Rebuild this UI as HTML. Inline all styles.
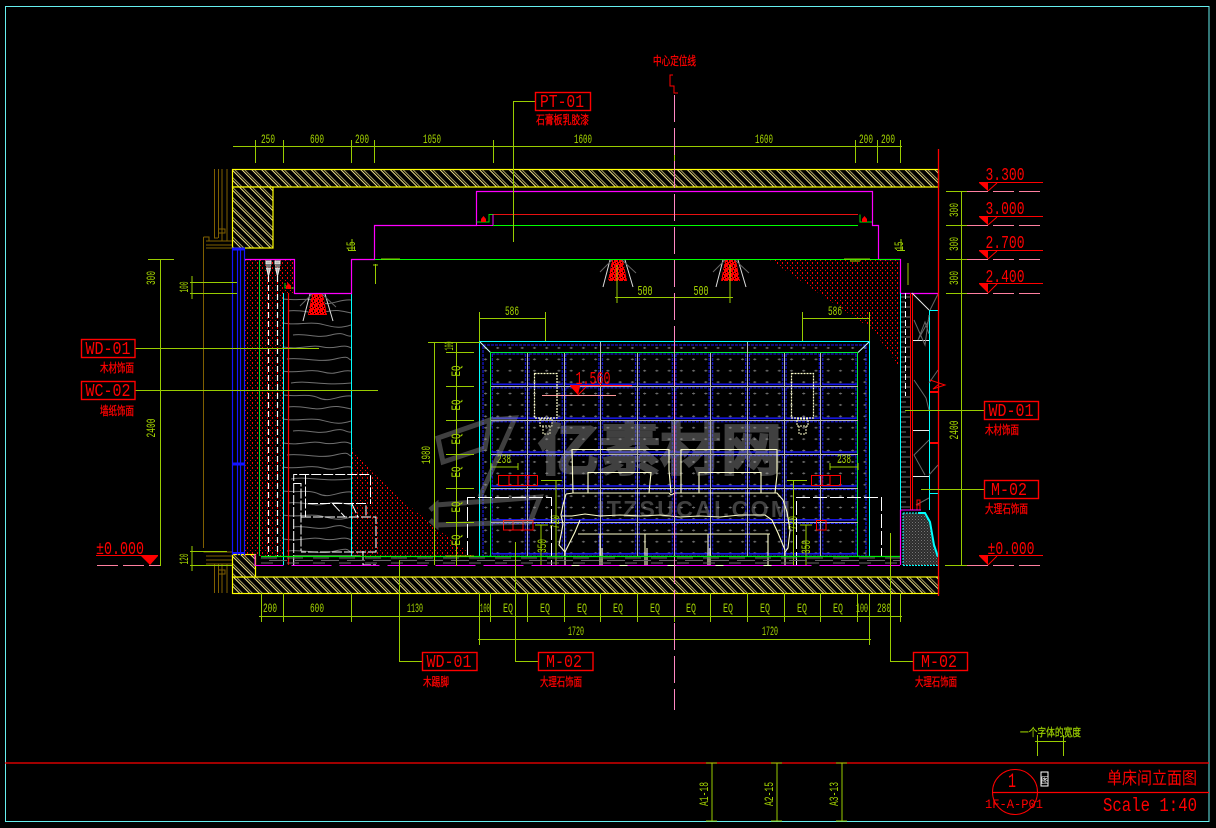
<!DOCTYPE html>
<html><head><meta charset="utf-8"><title>单床间立面图</title>
<style>
html,body{margin:0;padding:0;background:#000;width:1216px;height:828px;overflow:hidden}
svg{display:block}
.g{stroke:#99cc00;fill:none}
.t{font-family:"Liberation Mono",monospace;fill:#a4d400;font-size:12.5px;text-anchor:middle}
.r{font-family:"Liberation Mono",monospace;fill:#ff0000;font-size:18px;text-anchor:middle}
.c{font-family:"Liberation Sans","Noto Sans CJK SC",sans-serif;fill:#ff0000;font-size:12px;stroke:#ff0000;stroke-width:.3}
.cg{font-family:"Liberation Sans","Noto Sans CJK SC",sans-serif;fill:#99cc00;font-size:11px;stroke:#99cc00;stroke-width:.25}
.box{stroke:#ff0000;fill:none;stroke-width:1.4}
</style></head><body>
<svg width="1216" height="828" viewBox="0 0 1216 828" xmlns="http://www.w3.org/2000/svg">
<defs>
<pattern id="hatch" width="7" height="7" patternUnits="userSpaceOnUse" patternTransform="rotate(-45)"><rect width="7" height="7" fill="#000"/><line x1="2" y1="0" x2="2" y2="7" stroke="#f2e48a" stroke-width="1"/><line x1="4" y1="0" x2="4" y2="7" stroke="#f2e48a" stroke-width=".7"/></pattern>
<pattern id="dots" width="5" height="5" patternUnits="userSpaceOnUse"><rect x="0" y="0" width="1" height="1" fill="#ff0000"/><rect x="2" y="2" width="1" height="2" fill="#ff0000"/></pattern>
<pattern id="lampd" width="5" height="5" patternUnits="userSpaceOnUse"><rect width="5" height="5" fill="#ff0000"/><rect x="1" y="2" width="1" height="1" fill="#000"/><rect x="3" y="0" width="1" height="2" fill="#000"/><rect x="4" y="3" width="1" height="1" fill="#000"/></pattern>
<pattern id="plus" width="12.24" height="11.4" patternUnits="userSpaceOnUse" x="480" y="342"><path d="M4 6h3M5.5 5v2" stroke="#6e6e6e" stroke-width="1" fill="none"/></pattern>
<pattern id="cell" width="36.72" height="33.9" patternUnits="userSpaceOnUse" x="490.5" y="352.5"><path d="M1.8 1.5H35M1.8 1.5V32M35 1.5V32" stroke="#1a1aff" stroke-width="1" stroke-dasharray="3 1" fill="none"/><path d="M1 31.8H36" stroke="#1a1aff" stroke-width="1.5" fill="none"/></pattern>
<pattern id="wood" x="283" y="293" width="68" height="96" patternUnits="userSpaceOnUse"><path d="M0 6C15 8 25 4 36 9S55 6 68 7M5 18C20 16 30 22 42 19S58 18 68 20M0 30C14 33 26 28 38 31S56 36 68 32M10 42C24 40 34 46 48 42S62 44 68 43M0 54C18 57 28 51 40 54S60 50 68 55M4 66C20 64 36 70 52 66S64 66 68 67M0 78C14 81 26 75 40 79S58 76 68 78M8 90C24 87 40 93 68 90" stroke="#707070" stroke-width="1" fill="none"/></pattern>
<pattern id="stone" width="3" height="3" patternUnits="userSpaceOnUse"><rect width="3" height="3" fill="#2c2c2c"/><rect width="1" height="1" fill="#777"/><rect x="1.5" y="1.5" width="1" height="1" fill="#5c5c5c"/></pattern>
<pattern id="brick" x="901" y="293" width="9" height="10" patternUnits="userSpaceOnUse"><path d="M0 4H9M0 9H5" stroke="#707070" stroke-width="1"/></pattern>
<pattern id="floor" x="261" y="557" width="26" height="8" patternUnits="userSpaceOnUse"><path d="M0 1H16M8 3.5H26M0 6H12" stroke="#666" stroke-width="1"/></pattern>
</defs>
<rect width="1216" height="828" fill="#000"/>

<!-- frame -->
<rect x="5.5" y="6.5" width="1203.5" height="815" fill="none" stroke="#66eeee"/>
<path d="M5 763H1209M992 792.500H1209" stroke="#ff0000" fill="none" stroke-width="1.2"/>
<path d="M712 763V821M777 763V821M842 763V821" class="g"/>
<path d="M706 763H717M771 763H782M836 763H847M706 821H717M771 821H782M836 821H847" class="g"/>
<text class="t" x="0" y="0" transform="translate(708,794) rotate(-90)" textLength="24" lengthAdjust="spacingAndGlyphs">A1-18</text>
<text class="t" x="0" y="0" transform="translate(773,794) rotate(-90)" textLength="24" lengthAdjust="spacingAndGlyphs">A2-15</text>
<text class="t" x="0" y="0" transform="translate(838,794) rotate(-90)" textLength="24" lengthAdjust="spacingAndGlyphs">A3-13</text>
<circle cx="1015" cy="792" r="22.500" fill="none" stroke="#ff0000"/>
<text class="r" x="1012" y="787" style="font-size:20px" textLength="8" lengthAdjust="spacingAndGlyphs">1</text>
<text class="r" x="1014" y="808" style="font-size:13px" textLength="58" lengthAdjust="spacingAndGlyphs">1F-A-P01</text>
<rect x="1041" y="772" width="7" height="14" fill="#000" stroke="#fff"/>
<text x="1041" y="783" font-size="8" fill="#fff" font-family="Noto Sans CJK SC,sans-serif">图</text>
<text x="1107" y="784" class="c" style="font-size:17px;stroke-width:0" textLength="90" lengthAdjust="spacingAndGlyphs">单床间立面图</text>
<text x="1150" y="811" class="r" style="font-size:19px" textLength="94" lengthAdjust="spacingAndGlyphs">Scale 1:40</text>
<text x="1020" y="736" class="cg" textLength="61" lengthAdjust="spacingAndGlyphs">一个字体的宽度</text>
<path d="M1037.500 735V756M1063.500 735V756M1035 741.500H1066" class="g"/>

<!-- slabs -->
<rect x="232.500" y="169.500" width="706" height="17.500" fill="url(#hatch)" stroke="#ffff00" stroke-width="1.2"/>
<rect x="232.500" y="187" width="40.500" height="61" fill="url(#hatch)" stroke="#ffff00" stroke-width="1.2"/>
<rect x="232.500" y="577" width="706" height="16.500" fill="url(#hatch)" stroke="#ffff00" stroke-width="1.2"/>
<rect x="232.500" y="554.500" width="23" height="22.500" fill="url(#hatch)" stroke="#ffff00" stroke-width="1.2"/>

<!-- window brown -->
<path d="M214.500 169V238M218.500 169V238M222 169V241M227 169V241M203.500 237V548M203.500 237H209V241H232M206 241H232M206 245H232M206 248H232M218 238H214M219 229H225V233H219" stroke="#7f5f00" fill="none"/>
<path d="M203.500 552H232M206 556H232M206 560H232M206 564H232M214.500 564V593M218.500 564V593M222 564V593M227 564V593M219 570H225V574H219" stroke="#7f5f00" fill="none"/>

<!-- left blue columns -->
<path d="M232.500 249V555M237.500 249V555M240.500 249V555M244.500 249V555" stroke="#1414ff" fill="none" stroke-width="1.200"/>
<path d="M232 249H245" stroke="#1414ff" stroke-width="3"/>
<path d="M232 464H245" stroke="#1414ff" stroke-width="3"/>
<path d="M232 553H245" stroke="#1414ff" stroke-width="2"/>

<!-- red dot fills -->
<rect x="245" y="260" width="38" height="296" fill="url(#dots)"/>
<rect x="283" y="260" width="11" height="33" fill="url(#dots)"/>
<polygon points="352,448 372,472 400,498 432,525 473,556 352,556" fill="url(#dots)"/>
<polygon points="770,260 873,330 900,368 900,260" fill="url(#dots)"/>
<!-- left panel -->
<rect x="283" y="294" width="68" height="262" fill="url(#wood)"/>
<path d="M259.500 260V556" stroke="#00cc33"/>
<path d="M268.500 276V556M277.500 276V556" stroke="#fff" stroke-dasharray="6 3" fill="none" stroke-width="1.200"/>
<path d="M266 261h5v3h-5zM275 261h5v3h-5zM266 266h5M275 266h5M266.500 268l2 8 2-8zM275.500 268l2 8 2-8z" stroke="#e8e8e8" fill="#bbb"/>
<path d="M283.500 293V565M351.500 293V556" stroke="#00ffff" fill="none"/>
<path d="M288.500 293V565" stroke="#ff0000" fill="none" stroke-width="1.200"/>
<path d="M245 259.500H294.500V293.500H351.500V259.500H374.500V225.500H476.500V191.500H872.500V225.500H878.500V259.500H900.500V293.500H938" stroke="#ff00ff" fill="none" stroke-width="1.200"/>
<path d="M374.500 259.500H900" stroke="#00ff00" fill="none"/>
<path d="M492 225.500H858" stroke="#00ff00"/>
<path d="M490 214.500H858" stroke="#e81010"/>
<path d="M476.500 222H489V214.500H493V225" stroke="#00dd00" fill="none"/>
<path d="M493 214.500V225M476 225.500H493" stroke="#ff00ff" fill="none"/>
<path d="M860 214.500V222H872" stroke="#00dd00" fill="none"/>
<path d="M481 222v-3l2.500-3 2.500 3v3z" fill="#ff0000"/>
<path d="M862 222v-3l2.500-3 2.500 3v3z" fill="#ff0000"/>
<path d="M285 283V288H294" stroke="#00dd00" fill="none"/>
<path d="M286 289v-3l2.500-3 2.500 3v3z" fill="#ff0000"/>

<!-- lights -->
<polygon points="612,260 623,260 627,281 608,281" fill="url(#lampd)"/><path d="M610 260L603 287M625 260L633 287" stroke="#ddd" fill="none"/><path d="M612 260L600 272M622 260L636 273" stroke="#666" fill="none"/>
<polygon points="725,260 736,260 740,281 721,281" fill="url(#lampd)"/><path d="M723 260L716 287M738 260L746 287" stroke="#ddd" fill="none"/><path d="M725 260L713 272M735 260L749 273" stroke="#666" fill="none"/>
<polygon points="312,294 323,294 327,315 308,315" fill="url(#lampd)"/><path d="M310 294L303 321M325 294L333 321" stroke="#ddd" fill="none"/><path d="M312 294L300 306M322 294L336 307" stroke="#666" fill="none"/>
<path d="M617 265V303M730 265V303M615 297.500H733" class="g"/>
<text class="t" x="645" y="295" textLength="15" lengthAdjust="spacingAndGlyphs" style="font-size:14px">500</text>
<text class="t" x="701" y="295" textLength="15" lengthAdjust="spacingAndGlyphs" style="font-size:14px">500</text>

<!-- top dims -->
<path d="M233 146.500H902" class="g"/>
<path d="M255.500 140V163M283.500 140V163M351.500 140V163M374.500 140V163M493.500 140V163M674.500 140V163M855.500 140V163M877.500 140V163M900.500 140V163" class="g"/>
<text class="t" x="268" y="143" textLength="14" lengthAdjust="spacingAndGlyphs">250</text>
<text class="t" x="317" y="143" textLength="14" lengthAdjust="spacingAndGlyphs">600</text>
<text class="t" x="362" y="143" textLength="14" lengthAdjust="spacingAndGlyphs">200</text>
<text class="t" x="432" y="143" textLength="18" lengthAdjust="spacingAndGlyphs">1050</text>
<text class="t" x="583" y="143" textLength="18" lengthAdjust="spacingAndGlyphs">1600</text>
<text class="t" x="764" y="143" textLength="18" lengthAdjust="spacingAndGlyphs">1600</text>
<text class="t" x="866" y="143" textLength="14" lengthAdjust="spacingAndGlyphs">200</text>
<text class="t" x="888" y="143" textLength="14" lengthAdjust="spacingAndGlyphs">200</text>
<text class="t" transform="translate(355,246) rotate(-90)" textLength="9" lengthAdjust="spacingAndGlyphs">15</text>
<text class="t" transform="translate(903,246) rotate(-90)" textLength="9" lengthAdjust="spacingAndGlyphs">15</text>
<path d="M348 250.500H356M352 239V251M381 259H400M373 265H378M375.500 264V284M844 259H870M897 250.500H905M901 239V251" class="g"/>
<path d="M850 261H860M908 263V285" class="g"/>

<!-- bedroom wall -->
<rect x="480" y="342" width="390" height="214" fill="url(#plus)"/>
<rect x="491" y="353" width="367" height="203" fill="url(#cell)"/>
<rect x="483" y="345" width="383" height="211" fill="none" stroke="#1a1aff" stroke-dasharray="3 1"/>
<path d="M479.500 556V341.500H869.500V556" stroke="#00ffff" fill="none"/>
<path d="M480 342L490.500 352.500M869 342L858 352.500" stroke="#ccffff"/>
<path d="M490.500 556V352.500H857.500V556" stroke="#00ee33" fill="none"/>
<path d="M527.500 353V556M564.500 353V556M600.500 342V556M637.500 353V556M674.500 353V556M710.500 353V556M747.500 342V556M784.500 353V556M820.500 353V556" stroke="#b8b8b8" fill="none"/>
<path d="M491 386.500H858M491 420.500H858M491 454.500H858M491 488.500H858M491 522.500H858" stroke="#b8b8b8" fill="none"/>
<!-- sconces -->
<rect x="534.500" y="373.500" width="22.500" height="44.500" fill="none" stroke="#ffffcc" stroke-width="1.200" stroke-dasharray="2 1"/>
<path d="M540 419H552V426H540zM543 426V434H550V426" stroke="#ffffcc" fill="none" stroke-dasharray="2 1"/>
<rect x="791.500" y="373.500" width="22" height="44.500" fill="none" stroke="#ffffcc" stroke-width="1.200" stroke-dasharray="2 1"/>
<path d="M797 419H808V426H797zM799 426V434H806V426" stroke="#ffffcc" fill="none" stroke-dasharray="2 1"/>
<!-- 1.560 -->
<text class="r" x="593" y="384" textLength="35" lengthAdjust="spacingAndGlyphs">1.560</text>
<path d="M570 385.500H632" stroke="#ff0000"/>
<polygon points="570,386 580,386 578,395" fill="#ff0000"/>
<path d="M578 395L586 387" stroke="#ff0000"/>
<path d="M542 395.500H616" stroke="#ff9999"/>
<!-- red rects -->
<path d="M498.500 475.500H537.500V485.500H498.500zM509 475.500V485.500M518 475.500V485.500M528 475.500V485.500M503.500 520.500H533V530H503.500zM513 520.500V530M523 520.500V530" stroke="#ff0000" fill="none"/>
<path d="M811.500 475.500H840.500V485.500H811.500zM822 475.500V485.500M830 475.500V485.500M816.500 520.500H826V530H816.500z" stroke="#ff0000" fill="none"/>
<!-- 238 dims -->
<path d="M491 467H518M491 463V470M518 463V470M830 467H858M830 463V470M858 463V470" class="g"/>
<text class="t" x="504" y="463" textLength="14" lengthAdjust="spacingAndGlyphs">238</text>
<text class="t" x="844" y="463" textLength="14" lengthAdjust="spacingAndGlyphs">238</text>
<!-- 720 / 350 -->
<path d="M541 480.500H562M556 480V566M541 525V566M535 525H548M787 480.500H807M793.500 480V566M806 525V566M800 525H812" class="g"/>
<text class="t" transform="translate(559,522) rotate(-90)" textLength="14" lengthAdjust="spacingAndGlyphs">720</text>
<text class="t" transform="translate(797,523) rotate(-90)" textLength="14" lengthAdjust="spacingAndGlyphs">720</text>
<text class="t" transform="translate(546,546) rotate(-90)" textLength="14" lengthAdjust="spacingAndGlyphs">350</text>
<text class="t" transform="translate(810,547) rotate(-90)" textLength="14" lengthAdjust="spacingAndGlyphs">350</text>
<!-- watermark under bed -->
<g opacity="0.42">
<text x="538" y="470" font-family="Noto Sans CJK SC,sans-serif" font-weight="700" font-size="56" fill="#9a9a9a" stroke="#9a9a9a" stroke-width="2" textLength="244" lengthAdjust="spacingAndGlyphs">亿素材网</text>
<text x="598" y="517" font-family="Liberation Sans,sans-serif" font-weight="700" font-size="23" fill="#9a9a9a" textLength="192" lengthAdjust="spacing">ITZSUCAI.COM</text>
<path d="M436 505L540 497L530 522L436 525ZM430 510L436 505L436 525L430 520" stroke="#9a9a9a" stroke-width="5" fill="none"/>
<path d="M438 438L490 420L485 448L443 462ZM490 420L515 418L480 497" stroke="#9a9a9a" stroke-width="5" fill="none"/>
</g>
<!-- bed -->
<g stroke="#ffffcc" fill="none" stroke-width="1.100">
<path d="M573 493L572 449.500H669V470L671 493"/>
<path d="M588 493V472.500H651L649 493"/>
<path d="M681 493L681 449.500H777V475L775 493"/>
<path d="M699 493V472.500H761V493"/>
<path d="M566 494L573 493H669L671 495L675 493H725L777 493L783 500L787 512L790 530L788 548L785 552"/>
<path d="M566 494L563 505L561 515L563 524L561 535L559 545L565 552"/>
<path d="M562 516L572 516L585 514L600 516L620 515L640 516L660 515L680 517L700 516L720 517L740 515L765 515L772 520L778 533L785 550"/>
<path d="M565 552L575 532L580 520"/>
<path d="M578 534H770"/>
<path d="M565 552V566M600 534V566M602 548V566M645 534V566M647 548V566M708 534V566M710 548V566M768 534V566M785 552V566"/>
<path d="M565 565.500H785"/>
</g>
<!-- tables dashed -->
<path d="M467.500 555V497.500H551.500V566" stroke="#fff" stroke-dasharray="14 3" fill="none"/>
<path d="M796.500 566V497.500H881.500V556" stroke="#fff" stroke-dasharray="14 3" fill="none"/>
<!-- left furniture -->
<g stroke="#fff" fill="none" stroke-dasharray="10 2">
<path d="M293.700 565V474.500H370.500V504"/>
<path d="M305.500 474.500V517M294 483.500H301V551"/>
<path d="M308 503.500H366V517"/>
<path d="M301 517H376V552H301M363 551V565H376"/>
<path d="M333 504L345 517M352 504L358 517"/>
<path d="M293 556H360" stroke-dasharray="none" stroke="#ddd"/>
</g>
<!-- floor -->
<rect x="261" y="557" width="639" height="8" fill="url(#floor)"/>
<path d="M261 556.500H900" stroke="#00ee00" stroke-width="1.200"/>
<path d="M255 554V565.500H900" stroke="#ff00ff" fill="none" stroke-dasharray="40 8"/>
<!-- left dims for wall -->
<path d="M434.500 342V565M428 342.500H480M456.500 342V566" class="g"/>
<path d="M446 352.500H474M446 386.500H474M446 420.500H474M446 454.500H474M446 488.500H474M446 522.500H474M446 556H474" class="g"/>
<text class="t" transform="translate(430,455) rotate(-90)" textLength="18" lengthAdjust="spacingAndGlyphs">1980</text>
<text class="t" transform="translate(453,346) rotate(-90)" textLength="9" lengthAdjust="spacingAndGlyphs">100</text>
<text class="t" transform="translate(460,371) rotate(-90)" textLength="11" lengthAdjust="spacingAndGlyphs">EQ</text>
<text class="t" transform="translate(460,405) rotate(-90)" textLength="11" lengthAdjust="spacingAndGlyphs">EQ</text>
<text class="t" transform="translate(460,439) rotate(-90)" textLength="11" lengthAdjust="spacingAndGlyphs">EQ</text>
<text class="t" transform="translate(460,472) rotate(-90)" textLength="11" lengthAdjust="spacingAndGlyphs">EQ</text>
<text class="t" transform="translate(460,507) rotate(-90)" textLength="11" lengthAdjust="spacingAndGlyphs">EQ</text>
<text class="t" transform="translate(460,540) rotate(-90)" textLength="11" lengthAdjust="spacingAndGlyphs">EQ</text>
<!-- 586 -->
<path d="M479.500 312V341M545.500 312V341M479 318.500H546M802.500 312V341M869.500 312V341M802 318.500H870" class="g"/>
<text class="t" x="512" y="315" textLength="14" lengthAdjust="spacingAndGlyphs">586</text>
<text class="t" x="835" y="315" textLength="14" lengthAdjust="spacingAndGlyphs">586</text>

<!-- right side wall -->
<rect x="901" y="294" width="9" height="216" fill="url(#brick)"/>
<path d="M900.500 293V510M929.500 310V510M929.500 310.500H938M929.500 493.500H938" stroke="#00ffff" fill="none"/>
<path d="M910.500 293V510M912.500 293V510" stroke="#ff0000" fill="none"/>
<path d="M905.500 293V396" stroke="#fff" stroke-dasharray="6 3"/>
<path d="M912 293L929 310M913 340.500H929M913 430.500H929M913 476.500H929" stroke="#e8e8e8" fill="none"/>
<path d="M938 294L930 310M929 320L918 340L925 322L929 334M914 320L925 345L929 315M938 370L929 383M914 380L926 398L929 410M929 440L914 455L925 475M938 465L929 475M929 498L916 505" stroke="#666" fill="none"/>
<path d="M930 380L945 385L933 389L939 384" stroke="#ff0000" fill="none"/>
<path d="M930 392H938M930 443H938" stroke="#ff0000" stroke-width="2"/>
<path d="M917 500H920V510H917zM917 505H920" stroke="#ff0000" fill="none"/>
<!-- stone base -->
<polygon points="903,513 925,513 930,520 934,545 938,560 938,565 903,565" fill="url(#stone)"/>
<path d="M903 513H918" stroke="#00ffff" stroke-dasharray="2 1"/>
<path d="M918 513L925 513L930 522L934 545L938 557" stroke="#00ffff" stroke-width="2" fill="none"/>
<path d="M903 513V565M903 565.500H938" stroke="#00ffff" stroke-dasharray="2 1" fill="none"/>
<path d="M900.500 510V565" stroke="#ff00ff" fill="none" stroke-width="1.200"/>
<path d="M901 510H921" stroke="#ff00ff"/>
<!-- right red line -->
<path d="M938.500 149V596" stroke="#ff0000" stroke-width="1.300"/>

<!-- right levels -->
<path d="M946 191.500H967M946 225.500H967M946 259.500H967M946 293.500H967M945 565.500H967M961.500 191V566" class="g"/>
<path d="M967 191.500H1043M967 225.500H1043M967 259.500H1043M967 293.500H1043M967 565.500H1043" stroke="#ff80a0" stroke-dasharray="21 5" fill="none"/>
<path d="M979 182.500H1043M979 216.500H1043M979 250.500H1043M979 283.500H1043M979 555.500H1043" stroke="#ff0000" fill="none"/>
<polygon points="979,183 988,183 988,191" fill="#ff0000"/>
<polygon points="979,217 988,217 988,225" fill="#ff0000"/>
<polygon points="979,251 988,251 988,259" fill="#ff0000"/>
<polygon points="979,284 988,284 988,293" fill="#ff0000"/>
<polygon points="979,556 988,556 988,565" fill="#ff0000"/>
<path d="M988 191L997 183M988 225L997 217M988 259L997 251M988 293L997 284M988 565L997 556" stroke="#ff0000" fill="none"/>
<text class="r" x="1005" y="180" textLength="39" lengthAdjust="spacingAndGlyphs">3.300</text>
<text class="r" x="1005" y="214" textLength="39" lengthAdjust="spacingAndGlyphs">3.000</text>
<text class="r" x="1005" y="248" textLength="39" lengthAdjust="spacingAndGlyphs">2.700</text>
<text class="r" x="1005" y="282" textLength="39" lengthAdjust="spacingAndGlyphs">2.400</text>
<text class="r" x="1011" y="554" textLength="47" lengthAdjust="spacingAndGlyphs">±0.000</text>
<text class="t" transform="translate(958,210) rotate(-90)" textLength="14" lengthAdjust="spacingAndGlyphs">300</text>
<text class="t" transform="translate(958,244) rotate(-90)" textLength="14" lengthAdjust="spacingAndGlyphs">300</text>
<text class="t" transform="translate(958,278) rotate(-90)" textLength="14" lengthAdjust="spacingAndGlyphs">300</text>
<text class="t" transform="translate(958,430) rotate(-90)" textLength="19" lengthAdjust="spacingAndGlyphs">2400</text>

<!-- left levels -->
<path d="M148 259.500H174M160.500 259V566M192 276V299M190 282.500H237M190 293.500H237M192 546V571M190 551.500H227M190 565.500H232" class="g"/>
<path d="M97 565.500H160" stroke="#ff80a0" stroke-dasharray="21 5"/>
<path d="M96 555.500H158" stroke="#ff0000"/>
<polygon points="141,556 158,556 150,565" fill="#ff0000"/>
<text class="r" x="120" y="554" textLength="48" lengthAdjust="spacingAndGlyphs">±0.000</text>
<text class="t" transform="translate(155,278) rotate(-90)" textLength="14" lengthAdjust="spacingAndGlyphs">300</text>
<text class="t" transform="translate(155,428) rotate(-90)" textLength="19" lengthAdjust="spacingAndGlyphs">2400</text>
<text class="t" transform="translate(188,287) rotate(-90)" textLength="11" lengthAdjust="spacingAndGlyphs">100</text>
<text class="t" transform="translate(188,559) rotate(-90)" textLength="11" lengthAdjust="spacingAndGlyphs">120</text>

<!-- bottom dims -->
<path d="M259 616.500H902M478 639.500H871" class="g"/>
<path d="M261.500 593V622M283.500 593V622M351.500 593V622M479.500 593V645M490.500 593V622M527.500 593V622M564.500 593V622M600.500 593V622M637.500 593V622M674.500 593V622M710.500 593V622M747.500 593V622M784.500 593V622M820.500 593V622M857.500 593V622M869.500 593V645M900.500 593V622" class="g"/>
<text class="t" x="270" y="612" textLength="14" lengthAdjust="spacingAndGlyphs">200</text>
<text class="t" x="317" y="612" textLength="14" lengthAdjust="spacingAndGlyphs">600</text>
<text class="t" x="415" y="612" textLength="16" lengthAdjust="spacingAndGlyphs">1130</text>
<text class="t" x="485" y="612" textLength="10" lengthAdjust="spacingAndGlyphs">100</text>
<text class="t" x="508" y="612" textLength="10" lengthAdjust="spacingAndGlyphs">EQ</text>
<text class="t" x="545" y="612" textLength="10" lengthAdjust="spacingAndGlyphs">EQ</text>
<text class="t" x="582" y="612" textLength="10" lengthAdjust="spacingAndGlyphs">EQ</text>
<text class="t" x="618" y="612" textLength="10" lengthAdjust="spacingAndGlyphs">EQ</text>
<text class="t" x="655" y="612" textLength="10" lengthAdjust="spacingAndGlyphs">EQ</text>
<text class="t" x="691" y="612" textLength="10" lengthAdjust="spacingAndGlyphs">EQ</text>
<text class="t" x="728" y="612" textLength="10" lengthAdjust="spacingAndGlyphs">EQ</text>
<text class="t" x="765" y="612" textLength="10" lengthAdjust="spacingAndGlyphs">EQ</text>
<text class="t" x="802" y="612" textLength="10" lengthAdjust="spacingAndGlyphs">EQ</text>
<text class="t" x="838" y="612" textLength="10" lengthAdjust="spacingAndGlyphs">EQ</text>
<text class="t" x="862" y="612" textLength="12" lengthAdjust="spacingAndGlyphs">100</text>
<text class="t" x="884" y="612" textLength="14" lengthAdjust="spacingAndGlyphs">280</text>
<text class="t" x="576" y="635" textLength="16" lengthAdjust="spacingAndGlyphs">1720</text>
<text class="t" x="770" y="635" textLength="16" lengthAdjust="spacingAndGlyphs">1720</text>

<!-- leaders -->
<path d="M535 101.500H513.500V242" class="g"/>
<path d="M135 348.500H319M135 390.500H378M905 410.500H984M921 489.500H984" class="g"/>
<path d="M399.500 560V661.500H422M515.500 542V661.500H538M890.500 533V661.500H913" class="g"/>

<!-- labels -->
<rect class="box" x="535.500" y="92.500" width="55" height="18"/>
<text class="r" x="562" y="107" textLength="44" lengthAdjust="spacingAndGlyphs">PT-01</text>
<text x="536" y="124" class="c" textLength="53" lengthAdjust="spacingAndGlyphs">石膏板乳胶漆</text>
<text x="653" y="65" class="c" textLength="43" lengthAdjust="spacingAndGlyphs">中心定位线</text>
<path d="M673 75H670V86H674V93H678" stroke="#ff0000" fill="none"/>

<rect class="box" x="81.500" y="339.500" width="53.500" height="18"/>
<text class="r" x="108" y="354" textLength="45" lengthAdjust="spacingAndGlyphs">WD-01</text>
<text x="100" y="372" class="c" textLength="34" lengthAdjust="spacingAndGlyphs">木材饰面</text>
<rect class="box" x="81.500" y="381.500" width="53.500" height="18"/>
<text class="r" x="108" y="396" textLength="45" lengthAdjust="spacingAndGlyphs">WC-02</text>
<text x="100" y="415" class="c" textLength="34" lengthAdjust="spacingAndGlyphs">墙纸饰面</text>

<rect class="box" x="984.500" y="401.500" width="54" height="18"/>
<text class="r" x="1011" y="416" textLength="45" lengthAdjust="spacingAndGlyphs">WD-01</text>
<text x="985" y="434" class="c" textLength="34" lengthAdjust="spacingAndGlyphs">木材饰面</text>
<rect class="box" x="984.500" y="480.500" width="54" height="18"/>
<text class="r" x="1009" y="495" textLength="36" lengthAdjust="spacingAndGlyphs">M-02</text>
<text x="985" y="513" class="c" textLength="43" lengthAdjust="spacingAndGlyphs">大理石饰面</text>

<rect class="box" x="422.500" y="652.500" width="54.500" height="18"/>
<text class="r" x="449" y="667" textLength="45" lengthAdjust="spacingAndGlyphs">WD-01</text>
<text x="423" y="686" class="c" textLength="26" lengthAdjust="spacingAndGlyphs">木踢脚</text>
<rect class="box" x="538.500" y="652.500" width="54.500" height="18"/>
<text class="r" x="564" y="667" textLength="36" lengthAdjust="spacingAndGlyphs">M-02</text>
<text x="540" y="686" class="c" textLength="42" lengthAdjust="spacingAndGlyphs">大理石饰面</text>
<rect class="box" x="913.500" y="652.500" width="54" height="18"/>
<text class="r" x="939" y="667" textLength="36" lengthAdjust="spacingAndGlyphs">M-02</text>
<text x="915" y="686" class="c" textLength="42" lengthAdjust="spacingAndGlyphs">大理石饰面</text>

<!-- center line -->
<path d="M674.500 95V710" stroke="#ff88c4" stroke-dasharray="27 6" fill="none"/>
</svg>
</body></html>
